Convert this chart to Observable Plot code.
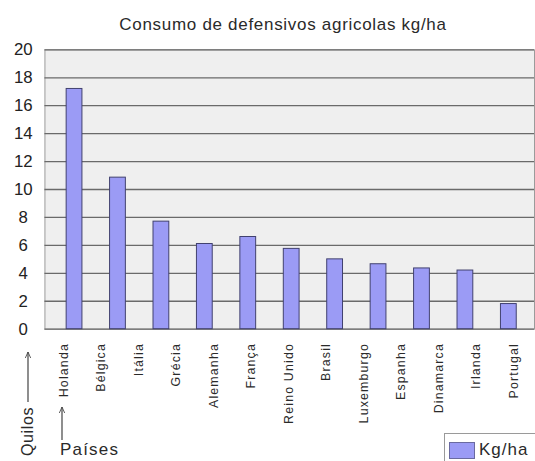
<!DOCTYPE html>
<html><head><meta charset="utf-8">
<script src="https://cdn.jsdelivr.net/npm/d3@7"></script>
<script src="https://cdn.jsdelivr.net/npm/@observablehq/plot@0.6"></script>
<style>
html,body{margin:0;padding:0;overflow:hidden;background:#fff;width:535px;height:461px;}
#wrap{position:relative;width:535px;height:461px;overflow:hidden;font-family:"Liberation Sans",Arial,sans-serif;}
#wrap svg{position:absolute;left:0;top:0;}
.title{position:absolute;left:0;width:566px;text-align:center;top:15px;font-size:17px;letter-spacing:0.7px;color:#2a2a2a;line-height:20px;white-space:nowrap;}
.legend{position:absolute;left:444px;top:433px;width:110px;height:40px;border:1px solid #9a9a9a;background:#fff;}
.legend .sw{position:absolute;left:4px;top:8px;width:24px;height:15px;background:#9b9bf5;border:1px solid #6a6aa0;}
.legend .tx{position:absolute;left:34px;top:6px;font-size:17px;letter-spacing:1px;color:#2a2a2a;line-height:20px;}
</style>
</head><body>
<div id="wrap">
  <div class="title">Consumo de defensivos agricolas kg/ha</div>
</div>
<script>
// Data
const countries = ["Holanda","Bélgica","Itália","Grécia","Alemanha","França","Reino Unido","Brasil","Luxemburgo","Espanha","Dinamarca","Irlanda","Portugal"];
const barKeys = ["b1","b2","b3","b4","b5","b6","b7","b8","b9","b10","b11"];
const barValues = [17.2, 10.85, 7.7, 6.1, 6.6, 5.75, 5.0, 4.65, 4.35, 4.2, 1.8];
const yTicks = [0,2,4,6,8,10,12,14,16,18,20];
const seriesName = "Kg/ha";
const yAxisTitle = "Quilos";
const xAxisTitle = "Países";

const wrap = document.getElementById("wrap");
const bars = barKeys.map((k, i) => ({bar: k, value: barValues[i]}));
const font = "Liberation Sans, Arial, sans-serif";

const p1 = Plot.plot({
  width: 542, height: 461,
  marginLeft: 45, marginRight: 1, marginTop: 50, marginBottom: 128,
  style: {background: "transparent", fontFamily: font, overflow: "visible"},
  x: {type: "band", domain: barKeys, paddingInner: 0.63, paddingOuter: 0.31, insetLeft: 4, axis: null},
  y: {domain: [0, 20], label: null},
  marks: [
    Plot.frame({fill: "#efefef", stroke: "#9a9a9a"}),
    Plot.ruleY(yTicks, {stroke: "#6a6a6a", strokeWidth: 1.3}),
    Plot.barY(bars, {x: "bar", y: "value", fill: "#9b9bf5", stroke: "#40406e", strokeWidth: 1}),
    Plot.axisY(yTicks, {tickSize: 0, tickPadding: 22, textAnchor: "middle", fontSize: 17, fill: "#222", label: null})
  ]
});
wrap.appendChild(p1);

const p2 = Plot.plot({
  width: 542, height: 461,
  marginLeft: 43, marginRight: 1, marginTop: 50, marginBottom: 128,
  style: {background: "transparent", fontFamily: font, letterSpacing: "1.2px", overflow: "visible"},
  x: {type: "band", domain: countries, padding: 0},
  y: {axis: null, domain: [0, 1]},
  marks: [
    Plot.axisX({tickSize: 0, tickPadding: 14, tickRotate: -90, fontSize: 12.5, fill: "#2a2a2a", label: null})
  ]
});
wrap.appendChild(p2);

// axis titles with arrows
const ann = d3.create("svg").attr("width", 535).attr("height", 461)
  .style("font-family", font).style("pointer-events", "none");
const defs = ann.append("defs");
defs.append("marker").attr("id", "ah").attr("viewBox", "0 0 10 10").attr("refX", 9).attr("refY", 5)
  .attr("markerWidth", 6).attr("markerHeight", 6).attr("orient", "auto")
  .append("path").attr("d", "M0,1 L9,5 L0,9").attr("fill", "none").attr("stroke", "#444").attr("stroke-width", 1.2);
ann.append("text").attr("transform", "translate(33,407) rotate(-90)").attr("text-anchor", "end")
  .attr("font-size", 16).attr("letter-spacing", "0.6px").attr("fill", "#2a2a2a").text(yAxisTitle);
ann.append("line").attr("x1", 28).attr("x2", 28).attr("y1", 402).attr("y2", 352)
  .attr("stroke", "#444").attr("stroke-width", 1.2).attr("marker-end", "url(#ah)");
ann.append("text").attr("x", 60).attr("y", 455).attr("font-size", 17).attr("letter-spacing", "1.2px")
  .attr("fill", "#2a2a2a").text(xAxisTitle);
ann.append("line").attr("x1", 62).attr("x2", 62).attr("y1", 440).attr("y2", 407)
  .attr("stroke", "#444").attr("stroke-width", 1.2).attr("marker-end", "url(#ah)");
wrap.appendChild(ann.node());

// legend
const lg = document.createElement("div");
lg.className = "legend";
lg.innerHTML = '<div class="sw"></div><div class="tx"></div>';
lg.querySelector(".tx").textContent = seriesName;
wrap.appendChild(lg);
</script>
</body></html>
